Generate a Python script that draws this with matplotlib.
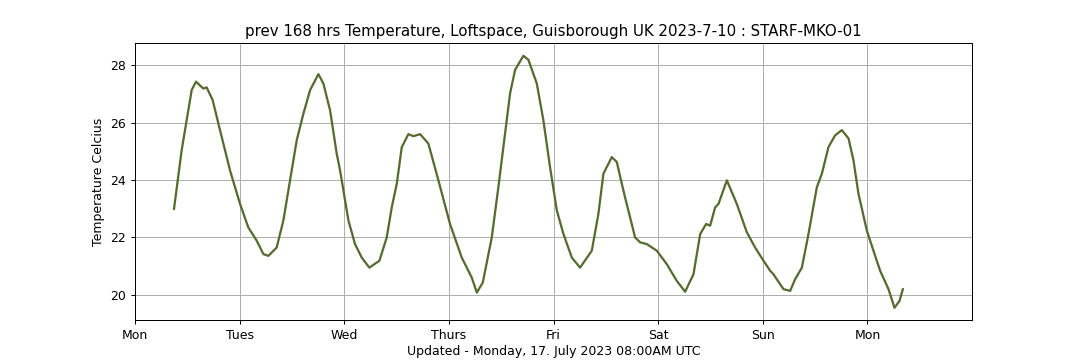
import matplotlib
matplotlib.use('Agg')
import matplotlib.pyplot as plt

# time in days from Monday 00:00, temperature in C
days = [0.373, 0.446, 0.494, 0.542, 0.583, 0.620, 0.653, 0.685, 0.742, 0.797,
        0.908, 1.004, 1.083, 1.163, 1.227, 1.275, 1.354, 1.418, 1.482, 1.546,
        1.610, 1.674, 1.753, 1.800, 1.864, 1.928, 1.960, 2.008, 2.040, 2.103,
        2.167, 2.240, 2.336, 2.406, 2.454, 2.502, 2.550, 2.613, 2.661, 2.725,
        2.804, 2.900, 3.011, 3.123, 3.219, 3.267, 3.324, 3.410, 3.473, 3.537,
        3.585, 3.633, 3.712, 3.760, 3.840, 3.903, 3.967, 4.032, 4.095, 4.175,
        4.254, 4.366, 4.429, 4.477, 4.557, 4.605, 4.653, 4.684, 4.732, 4.780,
        4.828, 4.892, 4.987, 5.083, 5.178, 5.258, 5.338, 5.402, 5.459, 5.497,
        5.545, 5.577, 5.657, 5.752, 5.848, 5.927, 6.007, 6.071, 6.102, 6.198,
        6.262, 6.310, 6.374, 6.437, 6.517, 6.565, 6.628, 6.692, 6.756, 6.820,
        6.867, 6.915, 6.995, 7.058, 7.122, 7.202, 7.259, 7.307, 7.339]
temps = [23.0, 25.04, 26.09, 27.14, 27.43, 27.30, 27.19, 27.23, 26.79, 25.97,
         24.34, 23.17, 22.35, 21.89, 21.42, 21.36, 21.65, 22.59, 23.99, 25.39,
         26.32, 27.14, 27.69, 27.37, 26.44, 24.92, 24.34, 23.29, 22.59, 21.77,
         21.30, 20.95, 21.19, 22.0, 23.05, 23.87, 25.15, 25.60, 25.53, 25.60,
         25.27, 23.99, 22.47, 21.30, 20.60, 20.08, 20.43, 22.0, 23.75, 25.62,
         27.02, 27.84, 28.33, 28.19, 27.37, 26.09, 24.45, 22.94, 22.12, 21.30,
         20.95, 21.54, 22.82, 24.22, 24.80, 24.63, 23.87, 23.40, 22.70, 22.0,
         21.83, 21.77, 21.54, 21.07, 20.49, 20.11, 20.72, 22.12, 22.47, 22.41,
         23.05, 23.17, 23.99, 23.17, 22.18, 21.65, 21.19, 20.84, 20.72, 20.20,
         20.14, 20.55, 20.95, 22.12, 23.75, 24.22, 25.15, 25.56, 25.74, 25.45,
         24.69, 23.52, 22.24, 21.54, 20.84, 20.20, 19.55, 19.79, 20.20]

day_names = ['Mon', 'Tues', 'Wed', 'Thurs', 'Fri', 'Sat', 'Sun', 'Mon']

fig, ax = plt.subplots(figsize=(12, 4), dpi=90)
ax.plot(days, temps, color='#556b2f', linewidth=1.8)
ax.set_xlim(0, 8)
ax.set_xticks(range(len(day_names)))
ax.set_xticklabels(day_names)
ax.set_ylabel('Temperature Celcius')
ax.set_xlabel('Updated - Monday, 17. July 2023 08:00AM UTC', labelpad=2)
ax.set_title('prev 168 hrs Temperature, Loftspace, Guisborough UK 2023-7-10 : STARF-MKO-01')
ax.grid(True)

plt.savefig('out.png')
